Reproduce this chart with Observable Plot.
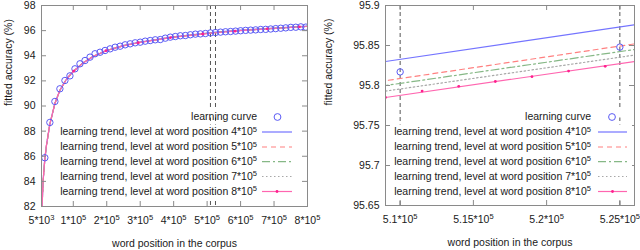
<!DOCTYPE html>
<html><head><meta charset="utf-8">
<script src="https://cdn.jsdelivr.net/npm/d3@7"></script>
<script src="https://cdn.jsdelivr.net/npm/@observablehq/plot@0.6"></script>
<style>
html,body{margin:0;padding:0;background:#fff;}
#wrap{display:flex;width:640px;height:250px;}
#wrap svg{display:block;overflow:visible;}
</style></head><body><div id="wrap"></div>
<script>
// ---------- data ----------
const corpusPositions = [15000,30000,45000,60000,75000,90000,105000,120000,135000,150000,165000,180000,195000,210000,225000,240000,255000,270000,285000,300000,315000,330000,345000,360000,375000,390000,405000,420000,435000,450000,465000,480000,495000,510000,525000,540000,555000,570000,585000,600000,615000,630000,645000,660000,675000,690000,705000,720000,735000,750000,765000,780000,795000];
const learningCurve = [85.88,88.69,90.36,91.37,92.03,92.40,92.96,93.36,93.62,93.89,94.16,94.28,94.42,94.55,94.68,94.76,94.87,94.95,95.03,95.08,95.16,95.21,95.27,95.29,95.40,95.48,95.53,95.59,95.61,95.67,95.72,95.74,95.77,95.817,95.848,95.88,95.91,95.93,95.96,95.99,96.02,96.04,96.06,96.09,96.10,96.13,96.16,96.19,96.22,96.26,96.27,96.30,96.28];

const trendPositions = [5000,10000,15000,20000,30000,45000,60000,80000,100000,130000,160000,200000,250000,300000,400000,500000,509000,526000,600000,700000,800000];
const trend4 = [81.0,84.1,85.8,86.9,88.55,90.2,91.25,92.15,92.75,93.45,93.95,94.42,94.8,95.08,95.50,95.806,95.830,95.876,96.04,96.21,96.37];
const trend5 = [81.0,84.1,85.8,86.9,88.55,90.2,91.25,92.15,92.75,93.45,93.95,94.42,94.8,95.07,95.49,95.782,95.806,95.852,96.02,96.19,96.35];
const trend6 = [81.0,84.1,85.8,86.9,88.55,90.2,91.25,92.15,92.75,93.45,93.95,94.42,94.8,95.07,95.49,95.776,95.800,95.845,96.01,96.18,96.34];
const trend7 = [81.0,84.1,85.8,86.9,88.55,90.2,91.25,92.15,92.75,93.45,93.95,94.42,94.8,95.07,95.48,95.769,95.793,95.838,96.01,96.18,96.34];
const trend8 = [81.0,84.1,85.8,86.9,88.55,90.2,91.25,92.15,92.75,93.45,93.95,94.42,94.8,95.07,95.48,95.761,95.785,95.830,96.00,96.17,96.33];

const markerPositionsLeft = [5000,101364,197727,294091,390455,486818,583182,679545,775909];
const markerValuesLeft = [81.0,92.78,94.40,95.04,95.45,95.73,95.96,96.14,96.30];
const markerPositionsRight = [509000,511500,514000,516500,519000,521500,524000];
const markerValuesRight = [95.785,95.793,95.799,95.805,95.811,95.818,95.824];

const zoomBounds = [510000, 525000];

const leftXTicks = [5000,100000,200000,300000,400000,500000,600000,700000,800000];
const leftXTickLabels = ["5*10^3","1*10^5","2*10^5","3*10^5","4*10^5","5*10^5","6*10^5","7*10^5","8*10^5"];
const leftYTicks = [82,84,86,88,90,92,94,96,98];
const leftYTickLabels = ["82","84","86","88","90","92","94","96","98"];
const rightXTicks = [510000,515000,520000,525000];
const rightXTickLabels = ["5.1*10^5","5.15*10^5","5.2*10^5","5.25*10^5"];
const rightYTicks = [95.65,95.7,95.75,95.8,95.85,95.9];
const rightYTickLabels = ["95.65","95.7","95.75","95.8","95.85","95.9"];

const legendLabels = ["learning curve",
  "learning trend, level at word position 4*10^5",
  "learning trend, level at word position 5*10^5",
  "learning trend, level at word position 6*10^5",
  "learning trend, level at word position 7*10^5",
  "learning trend, level at word position 8*10^5"];
const xTitle = "word position in the corpus";
const yTitle = "fitted accuracy (%)";

// ---------- styles ----------
const FONT = "'Liberation Sans', Arial, Helvetica, sans-serif";
const FS = 10.5;
const circleColor = "#5a5af5";
const pinkMarker = "#ff1f8f";
const trendStyles = [
  {values: trend4, color: "#7474ff", dash: null},
  {values: trend5, color: "#ff8080", dash: "5,4"},
  {values: trend6, color: "#86b886", dash: "8,3,2,3"},
  {values: trend7, color: "#a8a8a8", dash: "1.5,2.5"},
  {values: trend8, color: "#ff66b0", dash: null}
];
const frameColor = "#8a8a8a";

const curveRows = corpusPositions.map((x, i) => ({x, y: learningCurve[i]}));

function supify(el) {
  const s = el.textContent;
  const k = s.indexOf("^");
  if (k < 0) return;
  const ns = "http://www.w3.org/2000/svg";
  el.textContent = "";
  const a = document.createElementNS(ns, "tspan"); a.textContent = s.slice(0, k);
  const b = document.createElementNS(ns, "tspan"); b.textContent = s.slice(k + 1);
  b.setAttribute("font-size", "0.72em"); b.setAttribute("dy", "-0.48em");
  el.append(a, b);
}

function panel(cfg) {
  const fw = cfg.width - cfg.ml - cfg.mr, fh = cfg.height - cfg.mt - cfg.mb;
  const xMap = new Map(cfg.xTicks.map((t, i) => [t, cfg.xLabels[i]]));
  const yMap = new Map(cfg.yTicks.map((t, i) => [t, cfg.yLabels[i]]));
  const markerRows = cfg.markerX.map((x, i) => ({x, y: cfg.markerY[i]}));
  const marks = [
    Plot.ruleX(zoomBounds, {x: d => d, stroke: "#555", strokeWidth: 1, strokeDasharray: "4,3", clip: true}),
    ...trendStyles.map(s => Plot.line(trendPositions.map((x, j) => ({x, y: s.values[j]})),
      {x: "x", y: "y", stroke: s.color, strokeWidth: 1.2, strokeDasharray: s.dash, clip: true})),
    Plot.dot(curveRows, {x: "x", y: "y", r: 3.2, stroke: circleColor, strokeWidth: 1, fill: "none", clip: true}),
    Plot.dot(markerRows, {x: "x", y: "y", r: 1.4, fill: pinkMarker, stroke: null, clip: true}),
    Plot.frame({stroke: frameColor}),
    Plot.tickX(cfg.xTicks, {x: d => d, insetTop: fh - 5, stroke: frameColor}),
    Plot.tickX(cfg.xTicks, {x: d => d, insetBottom: fh - 5, stroke: frameColor}),
    Plot.tickY(cfg.yTicks, {y: d => d, insetRight: fw - 5, stroke: frameColor}),
    Plot.tickY(cfg.yTicks, {y: d => d, insetLeft: fw - 5, stroke: frameColor}),
    Plot.axisX(cfg.xTicks, {tickSize: 0, tickPadding: 10, tickFormat: d => xMap.get(d), label: null}),
    Plot.axisY(cfg.yTicks, {tickSize: 0, tickPadding: 6, tickFormat: d => yMap.get(d), label: null}),
    Plot.text([xTitle], {text: d => d, frameAnchor: "bottom", dy: 37, lineAnchor: "middle"}),
    Plot.text([yTitle], {text: d => d, frameAnchor: "left", dx: cfg.yTitleDx, rotate: -90, lineAnchor: "middle"})
  ];
  const svg = Plot.plot({
    width: cfg.width, height: cfg.height,
    marginLeft: cfg.ml, marginRight: cfg.mr, marginTop: cfg.mt, marginBottom: cfg.mb,
    x: {domain: cfg.xDomain}, y: {domain: cfg.yDomain},
    style: {fontFamily: FONT, fontSize: FS + "px", color: "#1a1a1a", background: "none", overflow: "visible"},
    marks
  });
  document.getElementById("wrap").append(svg);
  svg.querySelectorAll("text").forEach(supify);

  // legend (inside the frame, bottom right)
  const g = d3.select(svg).append("g").attr("font-family", FONT).attr("font-size", FS).attr("fill", "#1a1a1a");
  const bgLayer = g.append("g");
  const L = cfg.legend;
  const textEls = [];
  legendLabels.forEach((lab, i) => {
    const y = L.rows[i];
    const t = g.append("text").attr("x", L.textEnd).attr("y", y).attr("dy", "0.32em")
      .attr("text-anchor", "end").text(lab);
    supify(t.node());
    textEls.push(t.node());
    if (i === 0) {
      g.append("circle").attr("cx", L.circleX).attr("cy", y).attr("r", 3.4)
        .attr("fill", "none").attr("stroke", circleColor).attr("stroke-width", 1);
    } else {
      const s = trendStyles[i - 1];
      g.append("line").attr("x1", L.x1).attr("x2", L.x2).attr("y1", y).attr("y2", y)
        .attr("stroke", s.color).attr("stroke-width", 1.2).attr("stroke-dasharray", s.dash);
      if (i === 5) g.append("circle").attr("cx", (L.x1 + L.x2) / 2).attr("cy", y).attr("r", 1.4).attr("fill", pinkMarker);
    }
  });
  const b0 = textEls[0].getBBox();
  bgLayer.append("rect").attr("x", b0.x - 2).attr("y", L.rows[0] - 7).attr("width", L.boxRight - b0.x + 2)
    .attr("height", 7.5).attr("fill", "#fff");
  let minX = Infinity;
  textEls.slice(1).forEach(e => { minX = Math.min(minX, e.getBBox().x); });
  bgLayer.append("rect").attr("x", minX - 3).attr("y", L.rows[1] - 7.5).attr("width", L.boxRight - minX + 3)
    .attr("height", L.rows[5] - L.rows[1] + 14).attr("fill", "#fff");
  return svg;
}

const rows = [117, 132, 147, 161.7, 176.5, 191.5];

panel({
  width: 320, height: 250, ml: 41, mr: 13, mt: 5, mb: 44,
  xDomain: [5000, 800000], yDomain: [82, 98],
  xTicks: leftXTicks, xLabels: leftXTickLabels, yTicks: leftYTicks, yLabels: leftYTickLabels,
  markerX: markerPositionsLeft, markerY: markerValuesLeft,
  yTitleDx: -33,
  legend: {rows, textEnd: 257, x1: 262, x2: 292, circleX: 277.5, boxRight: 302}
});

panel({
  width: 320, height: 250, ml: 65, mr: 6, mt: 5, mb: 45,
  xDomain: [509000, 526000], yDomain: [95.65, 95.9],
  xTicks: rightXTicks, xLabels: rightXTickLabels, yTicks: rightYTicks, yLabels: rightYTickLabels,
  markerX: markerPositionsRight, markerY: markerValuesRight,
  yTitleDx: -57,
  legend: {rows, textEnd: 271, x1: 278, x2: 307, circleX: 292, boxRight: 312}
});
</script></body></html>
